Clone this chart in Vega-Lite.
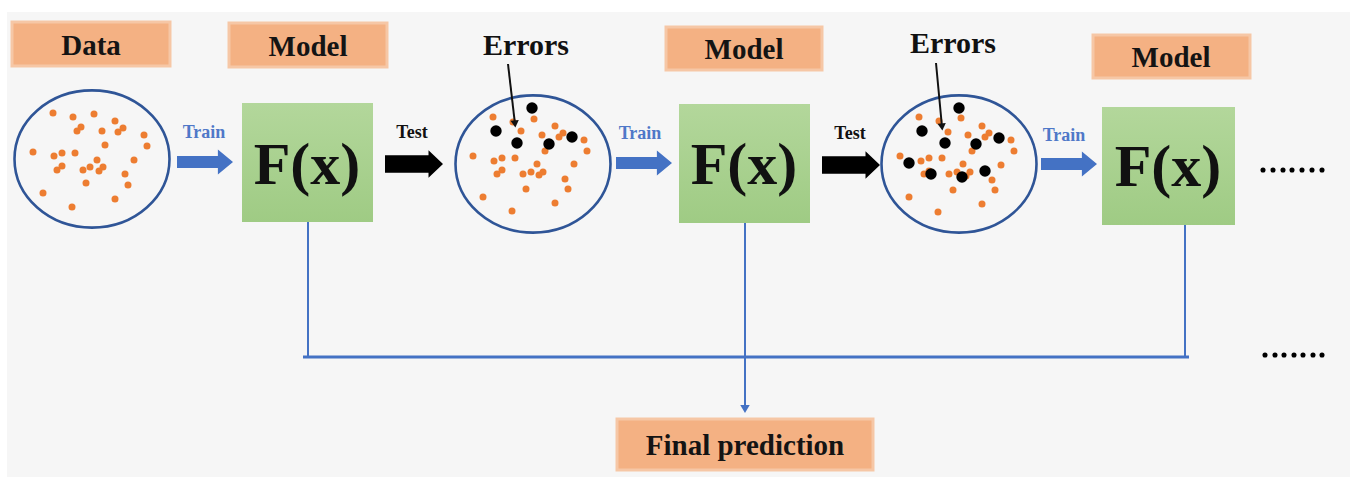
{
  "$schema": "https://vega.github.io/schema/vega-lite/v6.json",
  "width": 1352,
  "height": 477,
  "autosize": {"type": "fit", "contains": "padding"},
  "padding": 0,
  "background": "#ffffff",
  "config": {"view": {"stroke": null}},
  "datasets": {
    "frame": [{"x": 7, "x2": 1350, "y": 12, "y2": 477}],
    "labels": [
      {"text": "Data", "x": 12, "x2": 170, "y": 22, "y2": 66, "tx": 91, "ty": 55},
      {"text": "Model", "x": 229, "x2": 387, "y": 23, "y2": 67, "tx": 308, "ty": 56},
      {"text": "Model", "x": 666, "x2": 822, "y": 27, "y2": 70, "tx": 744, "ty": 59},
      {"text": "Model", "x": 1093, "x2": 1250, "y": 35, "y2": 78, "tx": 1171, "ty": 67},
      {"text": "Final prediction", "x": 617, "x2": 873, "y": 419, "y2": 470, "tx": 745, "ty": 455}
    ],
    "models": [
      {"x": 242, "x2": 373, "y": 103, "y2": 222, "fx": 307, "fy": 184},
      {"x": 679, "x2": 810, "y": 104, "y2": 223, "fx": 744, "fy": 184},
      {"x": 1102, "x2": 1235, "y": 107, "y2": 225, "fx": 1168, "fy": 186}
    ],
    "pools": [
      {"x": 92, "y": 159},
      {"x": 533, "y": 164},
      {"x": 959, "y": 164}
    ],
    "samples": [
      {"x": 53, "y": 113, "kind": "sample"}, {"x": 73, "y": 117, "kind": "sample"}, {"x": 94, "y": 114, "kind": "sample"},
      {"x": 115, "y": 121, "kind": "sample"}, {"x": 81, "y": 127, "kind": "sample"}, {"x": 77, "y": 131, "kind": "sample"},
      {"x": 102, "y": 131, "kind": "sample"}, {"x": 123, "y": 128, "kind": "sample"}, {"x": 118, "y": 132, "kind": "sample"},
      {"x": 144, "y": 135, "kind": "sample"}, {"x": 147, "y": 146, "kind": "sample"}, {"x": 105, "y": 145, "kind": "sample"},
      {"x": 33, "y": 152, "kind": "sample"}, {"x": 54, "y": 156, "kind": "sample"}, {"x": 62, "y": 153, "kind": "sample"},
      {"x": 75, "y": 153, "kind": "sample"}, {"x": 97, "y": 160, "kind": "sample"}, {"x": 90, "y": 167, "kind": "sample"},
      {"x": 83, "y": 170, "kind": "sample"}, {"x": 103, "y": 167, "kind": "sample"}, {"x": 99, "y": 171, "kind": "sample"},
      {"x": 62, "y": 166, "kind": "sample"}, {"x": 57, "y": 170, "kind": "sample"}, {"x": 134, "y": 160, "kind": "sample"},
      {"x": 125, "y": 174, "kind": "sample"}, {"x": 128, "y": 185, "kind": "sample"}, {"x": 86, "y": 183, "kind": "sample"},
      {"x": 43, "y": 193, "kind": "sample"}, {"x": 115, "y": 199, "kind": "sample"}, {"x": 72, "y": 207, "kind": "sample"},

      {"x": 493, "y": 117, "kind": "sample"}, {"x": 513, "y": 122, "kind": "sample"}, {"x": 534, "y": 119, "kind": "sample"},
      {"x": 555, "y": 126, "kind": "sample"}, {"x": 521, "y": 131, "kind": "sample"}, {"x": 542, "y": 135, "kind": "sample"},
      {"x": 563, "y": 133, "kind": "sample"}, {"x": 559, "y": 137, "kind": "sample"}, {"x": 584, "y": 140, "kind": "sample"},
      {"x": 587, "y": 151, "kind": "sample"}, {"x": 545, "y": 151, "kind": "sample"}, {"x": 473, "y": 156, "kind": "sample"},
      {"x": 494, "y": 161, "kind": "sample"}, {"x": 502, "y": 158, "kind": "sample"}, {"x": 515, "y": 158, "kind": "sample"},
      {"x": 537, "y": 164, "kind": "sample"}, {"x": 531, "y": 172, "kind": "sample"}, {"x": 523, "y": 174, "kind": "sample"},
      {"x": 543, "y": 172, "kind": "sample"}, {"x": 539, "y": 175, "kind": "sample"}, {"x": 502, "y": 170, "kind": "sample"},
      {"x": 497, "y": 174, "kind": "sample"}, {"x": 574, "y": 164, "kind": "sample"}, {"x": 565, "y": 179, "kind": "sample"},
      {"x": 568, "y": 189, "kind": "sample"}, {"x": 526, "y": 189, "kind": "sample"}, {"x": 483, "y": 197, "kind": "sample"},
      {"x": 555, "y": 203, "kind": "sample"}, {"x": 512, "y": 211, "kind": "sample"},
      {"x": 532, "y": 108, "kind": "error"}, {"x": 496, "y": 131, "kind": "error"}, {"x": 517, "y": 143, "kind": "error"},
      {"x": 549, "y": 144, "kind": "error"}, {"x": 572, "y": 137, "kind": "error"},

      {"x": 919, "y": 117, "kind": "sample"}, {"x": 939, "y": 121, "kind": "sample"}, {"x": 961, "y": 118, "kind": "sample"},
      {"x": 982, "y": 126, "kind": "sample"}, {"x": 948, "y": 132, "kind": "sample"}, {"x": 968, "y": 135, "kind": "sample"},
      {"x": 989, "y": 133, "kind": "sample"}, {"x": 985, "y": 137, "kind": "sample"}, {"x": 1011, "y": 140, "kind": "sample"},
      {"x": 1014, "y": 151, "kind": "sample"}, {"x": 972, "y": 151, "kind": "sample"}, {"x": 900, "y": 156, "kind": "sample"},
      {"x": 921, "y": 161, "kind": "sample"}, {"x": 929, "y": 158, "kind": "sample"}, {"x": 942, "y": 158, "kind": "sample"},
      {"x": 963, "y": 164, "kind": "sample"}, {"x": 957, "y": 172, "kind": "sample"}, {"x": 949, "y": 174, "kind": "sample"},
      {"x": 970, "y": 172, "kind": "sample"}, {"x": 966, "y": 176, "kind": "sample"}, {"x": 929, "y": 171, "kind": "sample"},
      {"x": 924, "y": 174, "kind": "sample"}, {"x": 1001, "y": 165, "kind": "sample"}, {"x": 992, "y": 180, "kind": "sample"},
      {"x": 995, "y": 190, "kind": "sample"}, {"x": 953, "y": 190, "kind": "sample"}, {"x": 909, "y": 197, "kind": "sample"},
      {"x": 982, "y": 204, "kind": "sample"}, {"x": 938, "y": 212, "kind": "sample"},
      {"x": 959, "y": 108, "kind": "error"}, {"x": 922, "y": 131, "kind": "error"}, {"x": 945, "y": 143, "kind": "error"},
      {"x": 976, "y": 144, "kind": "error"}, {"x": 999, "y": 138, "kind": "error"}, {"x": 909, "y": 163, "kind": "error"},
      {"x": 931, "y": 174, "kind": "error"}, {"x": 962, "y": 177, "kind": "error"}, {"x": 985, "y": 171, "kind": "error"}
    ],
    "train": [
      {"x": 205, "y": 162, "tx": 204, "ty": 138},
      {"x": 644, "y": 163, "tx": 640, "ty": 139},
      {"x": 1069, "y": 164, "tx": 1064, "ty": 141}
    ],
    "test": [
      {"x": 414, "y": 164, "tx": 412, "ty": 138},
      {"x": 851, "y": 165, "tx": 850, "ty": 139}
    ],
    "wires": [
      {"x": 308, "y": 222, "x2": 308, "y2": 357, "w": "thin"},
      {"x": 745, "y": 223, "x2": 745, "y2": 407, "w": "thin"},
      {"x": 1185, "y": 225, "x2": 1185, "y2": 357, "w": "thin"},
      {"x": 303, "y": 357, "x2": 1189, "y2": 357, "w": "thick"}
    ],
    "heads": [{"x": 745, "y": 409}],
    "errors": [
      {"x": 508, "y": 64, "x2": 515, "y2": 124, "tx": 526, "ty": 55},
      {"x": 936, "y": 63, "x2": 942, "y2": 127, "tx": 953, "ty": 53}
    ],
    "ellipsis": [
      {"x": 1263, "y": 170}, {"x": 1273, "y": 170}, {"x": 1283, "y": 170}, {"x": 1292, "y": 170},
      {"x": 1302, "y": 170}, {"x": 1312, "y": 170}, {"x": 1322, "y": 170},
      {"x": 1265, "y": 355}, {"x": 1275, "y": 355}, {"x": 1284, "y": 355}, {"x": 1294, "y": 355},
      {"x": 1303, "y": 355}, {"x": 1313, "y": 355}, {"x": 1322, "y": 355}
    ]
  },
  "layer": [
    {
      "data": {"name": "frame"},
      "mark": {"type": "rect", "color": "#f6f6f6"},
      "encoding": {
        "x": {"field": "x", "type": "quantitative", "scale": {"domain": [0, 1352], "nice": false, "zero": false}, "axis": null},
        "x2": {"field": "x2"},
        "y": {"field": "y", "type": "quantitative", "scale": {"domain": [0, 477], "nice": false, "zero": false, "reverse": true}, "axis": null},
        "y2": {"field": "y2"}
      }
    },
    {
      "data": {"name": "labels"},
      "mark": {"type": "rect", "color": "#f4b183", "stroke": "#f6c7a6", "strokeWidth": 3},
      "encoding": {
        "x": {"field": "x", "type": "quantitative", "scale": {"domain": [0, 1352], "nice": false, "zero": false}, "axis": null},
        "x2": {"field": "x2"},
        "y": {"field": "y", "type": "quantitative", "scale": {"domain": [0, 477], "nice": false, "zero": false, "reverse": true}, "axis": null},
        "y2": {"field": "y2"}
      }
    },
    {
      "data": {"name": "labels"},
      "mark": {"type": "text", "font": "Liberation Serif", "fontWeight": "bold", "fontSize": 29, "color": "#141414", "align": "center", "baseline": "alphabetic"},
      "encoding": {
        "x": {"field": "tx", "type": "quantitative", "scale": {"domain": [0, 1352], "nice": false, "zero": false}, "axis": null},
        "y": {"field": "ty", "type": "quantitative", "scale": {"domain": [0, 477], "nice": false, "zero": false, "reverse": true}, "axis": null},
        "text": {"field": "text"}
      }
    },
    {
      "data": {"name": "wires"},
      "mark": {"type": "rule", "color": "#4472c4"},
      "encoding": {
        "x": {"field": "x", "type": "quantitative", "scale": {"domain": [0, 1352], "nice": false, "zero": false}, "axis": null},
        "x2": {"field": "x2"},
        "y": {"field": "y", "type": "quantitative", "scale": {"domain": [0, 477], "nice": false, "zero": false, "reverse": true}, "axis": null},
        "y2": {"field": "y2"},
        "strokeWidth": {"field": "w", "type": "nominal", "scale": {"domain": ["thin", "thick"], "range": [2, 3.2]}, "legend": null}
      }
    },
    {
      "data": {"name": "heads"},
      "mark": {"type": "point", "shape": "triangle-down", "filled": true, "opacity": 1, "size": 90, "color": "#4472c4"},
      "encoding": {
        "x": {"field": "x", "type": "quantitative", "scale": {"domain": [0, 1352], "nice": false, "zero": false}, "axis": null},
        "y": {"field": "y", "type": "quantitative", "scale": {"domain": [0, 477], "nice": false, "zero": false, "reverse": true}, "axis": null}
      }
    },
    {
      "data": {"name": "models"},
      "mark": {"type": "rect", "color": {"gradient": "linear", "x1": 0, "y1": 0, "x2": 0, "y2": 1, "stops": [{"offset": 0, "color": "#b3d79b"}, {"offset": 1, "color": "#9fcb84"}]}},
      "encoding": {
        "x": {"field": "x", "type": "quantitative", "scale": {"domain": [0, 1352], "nice": false, "zero": false}, "axis": null},
        "x2": {"field": "x2"},
        "y": {"field": "y", "type": "quantitative", "scale": {"domain": [0, 477], "nice": false, "zero": false, "reverse": true}, "axis": null},
        "y2": {"field": "y2"}
      }
    },
    {
      "data": {"name": "models"},
      "mark": {"type": "text", "text": "F(x)", "font": "Liberation Serif", "fontWeight": "bold", "fontSize": 60, "color": "#111111", "align": "center", "baseline": "alphabetic"},
      "encoding": {
        "x": {"field": "fx", "type": "quantitative", "scale": {"domain": [0, 1352], "nice": false, "zero": false}, "axis": null},
        "y": {"field": "fy", "type": "quantitative", "scale": {"domain": [0, 477], "nice": false, "zero": false, "reverse": true}, "axis": null}
      }
    },
    {
      "data": {"name": "pools"},
      "mark": {"type": "point", "shape": "M1,0C1,0.4888,0.5523,0.885,0,0.885C-0.5523,0.885,-1,0.4888,-1,0C-1,-0.4888,-0.5523,-0.885,0,-0.885C0.5523,-0.885,1,-0.4888,1,0Z", "filled": false, "opacity": 1, "size": 24025, "color": "#2f5597", "strokeWidth": 2.6},
      "encoding": {
        "x": {"field": "x", "type": "quantitative", "scale": {"domain": [0, 1352], "nice": false, "zero": false}, "axis": null},
        "y": {"field": "y", "type": "quantitative", "scale": {"domain": [0, 477], "nice": false, "zero": false, "reverse": true}, "axis": null}
      }
    },
    {
      "data": {"name": "samples"},
      "mark": {"type": "point", "shape": "circle", "filled": true, "opacity": 1},
      "encoding": {
        "x": {"field": "x", "type": "quantitative", "scale": {"domain": [0, 1352], "nice": false, "zero": false}, "axis": null},
        "y": {"field": "y", "type": "quantitative", "scale": {"domain": [0, 477], "nice": false, "zero": false, "reverse": true}, "axis": null},
        "color": {"field": "kind", "type": "nominal", "scale": {"domain": ["sample", "error"], "range": ["#ed7d31", "#000000"]}, "legend": null},
        "size": {"field": "kind", "type": "nominal", "scale": {"domain": ["sample", "error"], "range": [49, 130]}, "legend": null},
        "order": {"field": "kind", "type": "nominal", "sort": "descending"}
      }
    },
    {
      "data": {"name": "train"},
      "mark": {"type": "point", "shape": "M-1,-0.21L0.46,-0.21L0.46,-0.45L1,0L0.46,0.45L0.46,0.21L-1,0.21Z", "filled": true, "opacity": 1, "size": 3136, "color": "#4472c4"},
      "encoding": {
        "x": {"field": "x", "type": "quantitative", "scale": {"domain": [0, 1352], "nice": false, "zero": false}, "axis": null},
        "y": {"field": "y", "type": "quantitative", "scale": {"domain": [0, 477], "nice": false, "zero": false, "reverse": true}, "axis": null}
      }
    },
    {
      "data": {"name": "train"},
      "mark": {"type": "text", "text": "Train", "font": "Liberation Serif", "fontWeight": "bold", "fontSize": 18, "color": "#4f78c8", "align": "center", "baseline": "alphabetic"},
      "encoding": {
        "x": {"field": "tx", "type": "quantitative", "scale": {"domain": [0, 1352], "nice": false, "zero": false}, "axis": null},
        "y": {"field": "ty", "type": "quantitative", "scale": {"domain": [0, 477], "nice": false, "zero": false, "reverse": true}, "axis": null}
      }
    },
    {
      "data": {"name": "test"},
      "mark": {"type": "point", "shape": "M-1,-0.3L0.5,-0.3L0.5,-0.47L1,0L0.5,0.47L0.5,0.3L-1,0.3Z", "filled": true, "opacity": 1, "size": 3364, "color": "#000000"},
      "encoding": {
        "x": {"field": "x", "type": "quantitative", "scale": {"domain": [0, 1352], "nice": false, "zero": false}, "axis": null},
        "y": {"field": "y", "type": "quantitative", "scale": {"domain": [0, 477], "nice": false, "zero": false, "reverse": true}, "axis": null}
      }
    },
    {
      "data": {"name": "test"},
      "mark": {"type": "text", "text": "Test", "font": "Liberation Serif", "fontWeight": "bold", "fontSize": 18, "color": "#111111", "align": "center", "baseline": "alphabetic"},
      "encoding": {
        "x": {"field": "tx", "type": "quantitative", "scale": {"domain": [0, 1352], "nice": false, "zero": false}, "axis": null},
        "y": {"field": "ty", "type": "quantitative", "scale": {"domain": [0, 477], "nice": false, "zero": false, "reverse": true}, "axis": null}
      }
    },
    {
      "data": {"name": "errors"},
      "mark": {"type": "rule", "color": "#111111", "strokeWidth": 2},
      "encoding": {
        "x": {"field": "x", "type": "quantitative", "scale": {"domain": [0, 1352], "nice": false, "zero": false}, "axis": null},
        "x2": {"field": "x2"},
        "y": {"field": "y", "type": "quantitative", "scale": {"domain": [0, 477], "nice": false, "zero": false, "reverse": true}, "axis": null},
        "y2": {"field": "y2"}
      }
    },
    {
      "data": {"name": "errors"},
      "mark": {"type": "point", "shape": "triangle-down", "filled": true, "opacity": 1, "size": 70, "color": "#111111", "angle": 354},
      "encoding": {
        "x": {"field": "x2", "type": "quantitative", "scale": {"domain": [0, 1352], "nice": false, "zero": false}, "axis": null},
        "y": {"field": "y2", "type": "quantitative", "scale": {"domain": [0, 477], "nice": false, "zero": false, "reverse": true}, "axis": null}
      }
    },
    {
      "data": {"name": "errors"},
      "mark": {"type": "text", "text": "Errors", "font": "Liberation Serif", "fontWeight": "bold", "fontSize": 30, "color": "#111111", "align": "center", "baseline": "alphabetic"},
      "encoding": {
        "x": {"field": "tx", "type": "quantitative", "scale": {"domain": [0, 1352], "nice": false, "zero": false}, "axis": null},
        "y": {"field": "ty", "type": "quantitative", "scale": {"domain": [0, 477], "nice": false, "zero": false, "reverse": true}, "axis": null}
      }
    },
    {
      "data": {"name": "ellipsis"},
      "mark": {"type": "point", "shape": "circle", "filled": true, "opacity": 1, "size": 26, "color": "#000000"},
      "encoding": {
        "x": {"field": "x", "type": "quantitative", "scale": {"domain": [0, 1352], "nice": false, "zero": false}, "axis": null},
        "y": {"field": "y", "type": "quantitative", "scale": {"domain": [0, 477], "nice": false, "zero": false, "reverse": true}, "axis": null}
      }
    }
  ]
}
